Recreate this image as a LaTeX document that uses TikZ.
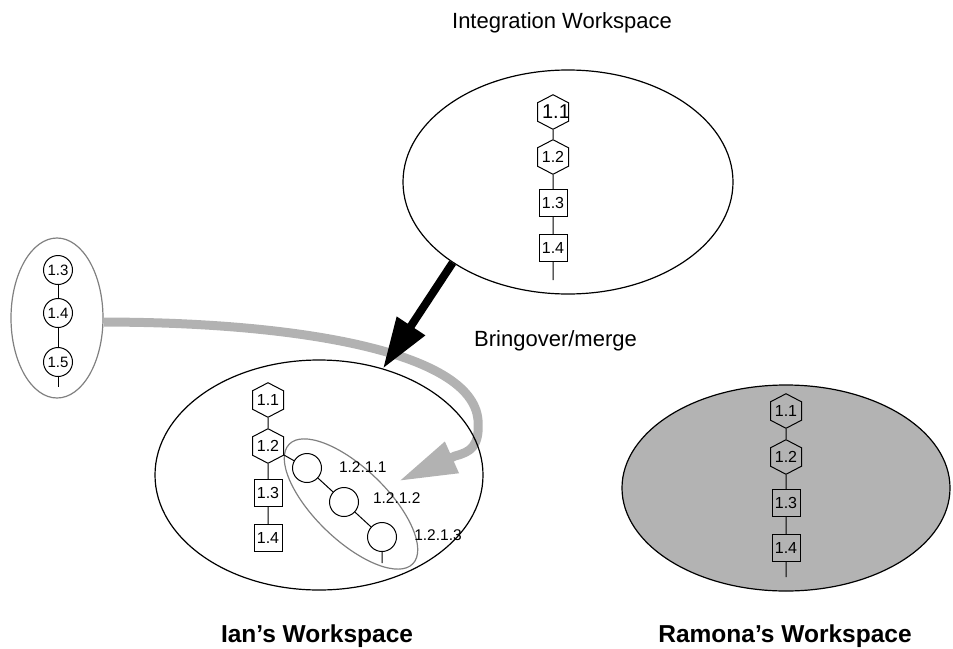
\documentclass[tikz,border=0pt]{standalone}
\usepackage{fontspec}
\setmainfont{Liberation Sans}
\usetikzlibrary{shapes.geometric,shapes.symbols,arrows.meta}
\definecolor{arrowgray}{RGB}{178,178,178}
\definecolor{fillgray}{RGB}{179,179,179}
\definecolor{linegray}{RGB}{128,128,128}
\begin{document}
\begin{tikzpicture}[x=1pt,y=-1pt,
  ws/.style={ellipse, draw, line width=1.2pt, inner sep=0pt},
  gws/.style={ellipse, draw=linegray, line width=1.2pt, inner sep=0pt},
  hexnode/.style={signal, signal to=north and south, signal pointer angle=125, draw, line width=1pt,
    minimum width=31pt, minimum height=30pt, inner sep=0pt, font=\fontsize{16}{16}\selectfont},
  sqnode/.style={rectangle, draw, line width=1pt, minimum width=28pt, minimum height=27pt,
    inner sep=0pt, font=\fontsize{16}{16}\selectfont},
  cnode/.style={circle, draw, line width=1pt, minimum size=29pt, inner sep=0pt,
    font=\fontsize{15}{15}\selectfont},
  link/.style={line width=1pt},
  lbl/.style={font=\fontsize{22}{22}\selectfont, anchor=base, inner sep=0pt},
  blbl/.style={font=\fontsize{24.5}{24.5}\selectfont\bfseries, anchor=base, inner sep=0pt},
  vlbl/.style={font=\fontsize{15.5}{15.5}\selectfont, inner sep=0pt},
]
\useasboundingbox (0,0) rectangle (953,648);

% workspaces (shapes only, drawn as nodes)
\node[ws, fill=fillgray, minimum width=328pt, minimum height=206pt] (ram) at (786,488) {};
\node[gws, minimum width=92pt, minimum height=160pt] (lws) at (57,318) {};

% grey bringover arrow (drawn under the ellipses' outlines)
\coordinate (gbase) at (455,456);
\coordinate (gtip) at (399,481);
\draw[arrowgray, line width=9pt, line join=round, -{Triangle[length=58pt,width=32pt]}]
  (lws.-5) .. controls (290,322) and (472,350) .. (478,420)
  .. controls (480,447) and (470,452) .. (gbase) -- (gtip);

\node[ws, minimum width=330pt, minimum height=224pt] (integ) at (568,182) {};
\node[ws, minimum width=328pt, minimum height=230pt] (ian) at (319,475) {};
\node[gws, minimum width=172pt, minimum height=72pt, rotate=-44] (grp) at (351,504) {};

% labels
\node[lbl] (tInt) at (562,28.3) {Integration Workspace};
\node[lbl] (tBr) at (555.5,346.7) {Bringover/merge};
\node[blbl] (tIan) at (317,642) {Ian’s Workspace};
\node[blbl] (tRam) at (785,642) {Ramona’s Workspace};

% integration workspace
\node[hexnode, label={[font=\fontsize{20}{20}\selectfont, inner sep=0pt, xshift=3pt]center:1.1}] (i1) at (553,112) {\phantom{1.2}};
\node[hexnode] (i2) at (553,157) {1.2};
\node[sqnode] (i3) at (553,203) {1.3};
\node[sqnode] (i4) at (553,248) {1.4};
\coordinate (iend) at (553,280);
\draw[link] (i1) -- (i2) -- (i3) -- (i4) -- (iend);

% left branch
\node[cnode] (l3) at (58,270) {1.3};
\node[cnode] (l4) at (58,313) {1.4};
\node[cnode] (l5) at (58,362) {1.5};
\coordinate (lend) at (58,387);
\draw[link] (l3) -- (l4) -- (l5) -- (lend);

% Ian's workspace
\node[hexnode] (a1) at (268,400) {1.1};
\node[hexnode] (a2) at (268,446) {1.2};
\node[sqnode] (a3) at (268,493) {1.3};
\node[sqnode] (a4) at (268,538) {1.4};
\draw[link] (a1) -- (a2) -- (a3) -- (a4);
\node[cnode] (c1) at (307,468) {};
\node[cnode] (c2) at (344,502) {};
\node[cnode] (c3) at (382,537) {};
\coordinate (cend) at (382,563);
\draw[link] (a2) -- (c1) -- (c2) -- (c3) -- (cend);
\node[vlbl] (v1) at (362.7,466.7) {1.2.1.1};
\node[vlbl] (v2) at (396.7,498.3) {1.2.1.2};
\node[vlbl] (v3) at (438,535) {1.2.1.3};

% Ramona's workspace
\node[hexnode] (r1) at (786,411) {1.1};
\node[hexnode] (r2) at (786,457) {1.2};
\node[sqnode] (r3) at (786,503) {1.3};
\node[sqnode] (r4) at (786,548) {1.4};
\coordinate (rend) at (786,577);
\draw[link] (r1) -- (r2) -- (r3) -- (r4) -- (rend);

% black bringover arrow
\draw[line width=8pt, -{Triangle[length=51pt,width=32pt]}] (integ.215) -- (ian.59);
\end{tikzpicture}
\end{document}
